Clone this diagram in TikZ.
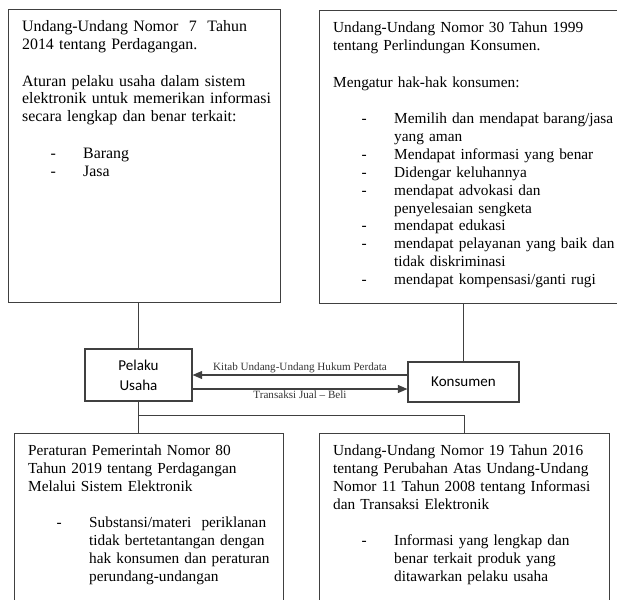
\documentclass[tikz,border=0pt]{standalone}
\usepackage{fontspec}
\setmainfont{Liberation Serif}
\newfontfamily\actorfont{Carlito}
\usepackage{tikz}
\usetikzlibrary{arrows.meta}
\newcommand{\lawpad}{\leftskip=3.4mm\relax}
\newcommand{\lawgap}{\par\vspace{4.7mm}}
\newcommand{\lawitem}[1]{\par\hangindent=15.25mm\hangafter=1
  \noindent\hspace*{7.1mm}\makebox[8.15mm][l]{-}#1}

\begin{document}
\begin{tikzpicture}[
  lawbox/.style={draw=black!75, line width=0.8pt, anchor=north west,
                 inner sep=0pt, align=left, text height=5.5mm,
                 font=\fontsize{10.9}{12.7}\selectfont},
  actor/.style={draw=black!75, line width=0.8pt, inner sep=0pt, align=center,
                font=\actorfont\fontsize{10.7}{14.2}\selectfont},
  conn/.style={draw=black!75, line width=0.8pt},
  flow/.style={conn, -{Triangle[length=2.4mm, width=2mm]}},
  flowlabel/.style={font=\fontsize{7.9}{9.5}\selectfont, text=black!80, inner sep=1.2pt},
]
  \useasboundingbox (0,0) rectangle (15.425,-14.975);
  \clip (0,0) rectangle (15.425,-14.975);

  % laws above
  \node[lawbox, font=\fontsize{11.3}{12.7}\selectfont, text width=6.8cm, text depth=6.775cm]
    (uu7) at (0.2,-0.225) {\lawpad
    Undang-Undang Nomor \ 7 \ Tahun\newline 2014 tentang Perdagangan.
    \lawgap
    Aturan pelaku usaha dalam sistem\newline elektronik untuk memerikan informasi\newline
    secara lengkap dan benar terkait:
    \lawgap
    \lawitem{Barang}
    \lawitem{Jasa}\par};
  \node[lawbox, text width=8.0cm, text depth=6.775cm] (uu30) at (7.975,-0.25) {\lawpad
    Undang-Undang Nomor 30 Tahun 1999\newline tentang Perlindungan Konsumen.
    \lawgap
    Mengatur hak-hak konsumen:
    \lawgap
    \lawitem{Memilih dan mendapat\hspace{0.3em}barang/jasa\newline yang aman}
    \lawitem{Mendapat informasi yang benar}
    \lawitem{Didengar keluhannya}
    \lawitem{mendapat advokasi dan\newline penyelesaian sengketa}
    \lawitem{mendapat edukasi}
    \lawitem{mendapat pelayanan yang baik dan\newline tidak diskriminasi}
    \lawitem{mendapat kompensasi/ganti rugi}\par};

  % parties
  \node[actor, minimum width=2.675cm, minimum height=1.3cm] (pelaku) at (3.4625,-9.375)
    {Pelaku\\Usaha};
  \node[actor, minimum width=2.775cm, minimum height=1.0cm] (konsumen) at (11.5875,-9.55)
    {Konsumen};

  % laws below
  \node[lawbox, text width=6.725cm, text depth=4.625cm] (pp80) at (0.35,-10.825) {\lawpad
    Peraturan Pemerintah Nomor 80\newline Tahun 2019 tentang Perdagangan\newline
    Melalui Sistem Elektronik
    \lawgap
    \lawitem{Substansi/materi \ periklanan\newline tidak bertetantangan dengan\newline
      hak konsumen dan peraturan\newline perundang-undangan}\par};
  \node[lawbox, text width=7.25cm, text depth=4.625cm] (uu19) at (7.975,-10.825) {\lawpad
    Undang-Undang Nomor 19 Tahun 2016\newline tentang Perubahan Atas Undang-Undang\newline
    Nomor 11 Tahun 2008 tentang Informasi\newline dan Transaksi Elektronik
    \lawgap
    \lawitem{Informasi yang lengkap dan\newline benar terkait produk yang\newline
      ditawarkan pelaku usaha}\par};

  \draw[conn] (pelaku.north) -- (pelaku.north |- uu7.south);
  \draw[conn] (konsumen.north) -- (konsumen.north |- uu30.south);

  \coordinate (kup) at ([yshift=1.75mm]konsumen.west);
  \coordinate (kdown) at ([yshift=-1.75mm]konsumen.west);
  \draw[flow] (kup) -- node[above, flowlabel]
    {Kitab Undang-Undang Hukum Perdata} (kup -| pelaku.east);
  \draw[flow] (kdown -| pelaku.east) -- node[below, flowlabel]
    {Transaksi Jual -- Beli} (kdown);

  \coordinate (split) at ([yshift=-3.5mm]pelaku.south);
  \draw[conn] (pelaku.south) -- (pelaku.south |- pp80.north);
  \draw[conn] (split) -| (uu19.north);
\end{tikzpicture}
\end{document}
